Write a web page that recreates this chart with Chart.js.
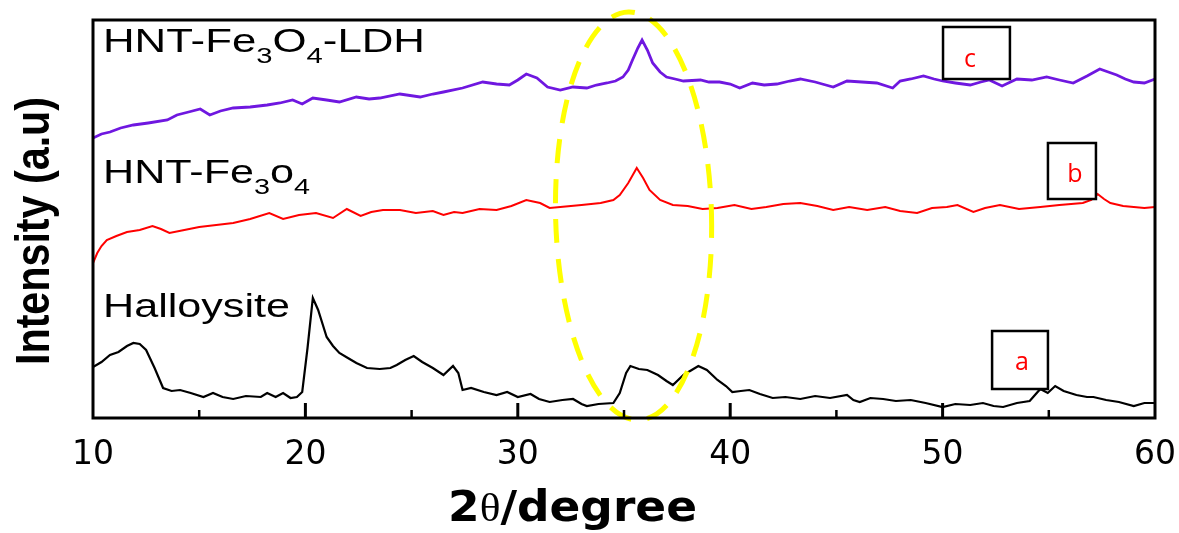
<!DOCTYPE html>
<html>
<head>
<meta charset="utf-8">
<script src="https://cdn.jsdelivr.net/npm/chart.js@4.4.1/dist/chart.umd.min.js"></script>
<style>
  html, body { margin: 0; padding: 0; background: #fff; }
</style>
</head>
<body>
<canvas id="xrd" width="1179" height="533"></canvas>
<script>
// 2theta (degree) / intensity (a.u.)
const haloX = [10.0, 10.4, 10.8, 11.2, 11.6, 11.9, 12.2, 12.5, 12.9, 13.3, 13.7, 14.1, 14.6, 15.2, 15.65, 16.1, 16.6, 17.2, 17.9, 18.2, 18.6, 18.95, 19.3, 19.6, 19.85, 20.1, 20.35, 20.6, 21.0, 21.3, 21.6, 22.0, 22.4, 22.9, 23.5, 24.0, 24.3, 24.7, 25.1, 25.5, 26.0, 26.5, 26.95, 27.2, 27.4, 27.8, 28.4, 29.0, 29.5, 30.0, 30.6, 31.0, 31.5, 32.1, 32.6, 33.0, 33.25, 33.8, 34.5, 34.8, 35.1, 35.3, 35.7, 36.1, 36.6, 37.0, 37.3, 37.8, 38.5, 38.9, 39.4, 39.8, 40.1, 40.5, 40.9, 41.4, 42.0, 42.6, 43.3, 44.0, 44.7, 45.5, 45.8, 46.1, 46.6, 47.2, 47.8, 48.5, 49.2, 50.0, 50.6, 51.3, 51.9, 52.4, 52.85, 53.5, 54.1, 54.6, 54.95, 55.3, 55.7, 56.3, 56.8, 57.1, 57.7, 58.3, 59.0, 59.5, 60.0];
const haloY = [51, 56, 63, 66, 72, 75, 74, 68, 50, 30, 27, 28, 25, 21, 25, 21, 19, 22, 21, 25, 21, 25, 20, 21, 26, 70, 120, 108, 81, 72, 65, 60, 55, 50, 49, 50, 53, 58, 62, 56, 50, 43, 52, 45, 28, 30, 26, 23, 26, 21, 24, 19, 16, 18, 19, 14, 12, 14, 15, 25, 45, 52, 49, 48, 43, 37, 33, 43, 52, 48, 38, 32, 26, 27, 28, 24, 20, 21, 19, 22, 20, 23, 18, 16, 20, 19, 17, 18, 15, 11, 14, 13, 15, 12, 11, 15, 17, 29, 25, 32, 27, 23, 21, 21, 18, 16, 12, 15, 15];

const fe3o4X = [10.0, 10.2, 10.4, 10.65, 11.1, 11.6, 12.2, 12.8, 13.2, 13.6, 14.3, 15.0, 15.8, 16.6, 17.4, 18.3, 18.95, 19.7, 20.5, 21.3, 21.95, 22.6, 23.1, 23.65, 24.45, 25.2, 26.0, 26.5, 27.0, 27.4, 28.2, 29.0, 29.7, 30.4, 31.05, 31.5, 32.0, 33.0, 33.9, 34.5, 34.8, 35.2, 35.6, 35.9, 36.2, 36.7, 37.3, 38.0, 38.7, 39.4, 40.2, 41.0, 41.7, 42.5, 43.3, 44.1, 44.85, 45.6, 46.45, 47.3, 48.0, 48.8, 49.5, 50.2, 50.7, 51.45, 52.0, 52.7, 53.6, 54.6, 55.5, 56.6, 57.0, 57.3, 57.6, 57.9, 58.5, 59.0, 59.5, 60.0];
const fe3o4Y = [155, 165, 172, 178, 182, 186, 188, 192, 189, 185, 188, 191, 193, 195, 199, 205, 199, 203, 205, 200, 209, 202, 206, 208, 208, 205, 207, 203, 206, 205, 209, 208, 212, 218, 215, 210, 211, 213, 215, 218, 223, 235, 250, 240, 228, 218, 213, 212, 209, 210, 213, 209, 211, 214, 215, 212, 208, 211, 208, 211, 207, 205, 210, 211, 213, 206, 210, 213, 209, 211, 213, 215, 218, 224, 219, 215, 212, 211, 210, 211];

const ldhX = [10.0, 10.4, 10.8, 11.3, 11.9, 12.6, 13.5, 13.95, 14.5, 15.05, 15.5, 16.0, 16.6, 17.4, 18.2, 18.8, 19.4, 19.85, 20.35, 21.0, 21.6, 22.4, 23.0, 23.5, 24.45, 25.4, 26.0, 26.5, 27.4, 28.35, 29.0, 29.6, 30.0, 30.4, 30.9, 31.4, 32.0, 32.6, 33.25, 33.7, 34.2, 34.6, 34.95, 35.2, 35.4, 35.65, 35.85, 36.1, 36.35, 36.7, 37.0, 37.4, 37.8, 38.6, 39.0, 39.5, 40.0, 40.45, 41.05, 41.6, 42.2, 42.8, 43.3, 44.0, 44.5, 44.85, 45.5, 46.2, 46.9, 47.65, 48.0, 48.5, 49.1, 49.6, 50.0, 50.6, 51.3, 51.8, 52.2, 52.8, 53.5, 54.2, 54.9, 55.5, 56.15, 56.8, 57.4, 57.8, 58.2, 58.6, 59.0, 59.5, 60.0];
const ldhY = [280, 284, 286, 290, 293, 295, 298, 303, 306, 309, 303, 307, 310, 311, 313, 315, 318, 314, 320, 318, 316, 321, 319, 320, 324, 321, 324, 326, 330, 336, 334, 333, 338, 344, 340, 331, 328, 331, 330, 333, 335, 337, 341, 348, 358, 370, 378, 368, 355, 346, 341, 339, 337, 338, 336, 336, 334, 330, 335, 333, 334, 337, 339, 336, 333, 331, 337, 336, 335, 330, 337, 339, 342, 339, 337, 335, 333, 336, 338, 332, 339, 338, 341, 338, 335, 342, 349, 346, 343, 339, 336, 335, 339];

const xTicks = [10, 20, 30, 40, 50, 60];

function pairs(xs, ys) {
  return xs.map((v, i) => ({ x: v, y: ys[i] }));
}

const SANS = "'Liberation Sans', Arial, sans-serif";

// run of text pieces [text, font, dy], stretched to a given width
function drawRun(ctx, parts, x, y, width) {
  let w = 0;
  parts.forEach(([t, f]) => { ctx.font = f; w += ctx.measureText(t).width; });
  ctx.save();
  ctx.translate(x, y);
  ctx.scale(width / w, 1);
  ctx.fillStyle = "#000";
  ctx.textAlign = "left";
  ctx.textBaseline = "alphabetic";
  let cx = 0;
  parts.forEach(([t, f, dy]) => {
    ctx.font = f;
    ctx.fillText(t, cx, dy || 0);
    cx += ctx.measureText(t).width;
  });
  ctx.restore();
}

function label(parts, size) {
  const main = size + "px " + SANS;
  const sub = Math.round(size * 0.66) + "px " + SANS;
  return parts.map(([t, s]) => [t, s ? sub : main, s ? size * 0.34 : 0]);
}

const decor = {
  id: "decor",
  afterDatasetsDraw(chart) {
    const { ctx, chartArea: a, scales: { x, y } } = chart;
    ctx.save();

    // yellow dashed ellipse round the 35.5 deg peak
    const cx = x.getPixelForValue(35.45), cy = y.getPixelForValue(202);
    const rx = x.getPixelForValue(35.45 + 3.67) - cx;
    const ry = cy - y.getPixelForValue(202 + 204);
    ctx.strokeStyle = "#ffff00";
    ctx.lineWidth = 5;
    ctx.setLineDash([24, 16]);
    ctx.beginPath();
    ctx.ellipse(cx, cy, rx, ry, -0.025, 0, Math.PI * 2);
    ctx.stroke();
    ctx.setLineDash([]);

    // frame + inward ticks
    ctx.strokeStyle = "#000";
    ctx.lineWidth = 3;
    ctx.strokeRect(a.left, a.top, a.right - a.left, a.bottom - a.top);
    for (let v = 15; v < 60; v += 5) {
      const px = x.getPixelForValue(v);
      const major = v % 10 === 0;
      ctx.lineWidth = major ? 3 : 2.5;
      ctx.beginPath();
      ctx.moveTo(px, a.bottom);
      ctx.lineTo(px, a.bottom - (major ? 15 : 8));
      ctx.stroke();
    }

    // sample names
    const lx = x.getPixelForValue(10.47);
    drawRun(ctx, label([["HNT-Fe"], ["3", 1], ["O"], ["4", 1], ["-LDH"]], 33), lx, y.getPixelForValue(366), 322);
    drawRun(ctx, label([["HNT-Fe"], ["3", 1], ["o"], ["4", 1]], 33), lx, y.getPixelForValue(235), 207);
    drawRun(ctx, label([["Halloysite"]], 33), lx, y.getPixelForValue(101), 187);

    // boxed letters
    const boxes = [
      ["c", 50.02, 53.17, 391, 339, 51.29, 351],
      ["b", 54.96, 57.22, 275, 219, 56.23, 236],
      ["a", 52.33, 54.96, 87, 29, 53.74, 48],
    ];
    boxes.forEach(([t, x1, x2, y1, y2, tx, ty]) => {
      const p1 = x.getPixelForValue(x1), p2 = x.getPixelForValue(x2);
      const q1 = y.getPixelForValue(y1), q2 = y.getPixelForValue(y2);
      ctx.fillStyle = "#fff";
      ctx.fillRect(p1, q1, p2 - p1, q2 - q1);
      ctx.strokeStyle = "#000";
      ctx.lineWidth = 2.5;
      ctx.strokeRect(p1, q1, p2 - p1, q2 - q1);
      ctx.fillStyle = "#ff0000";
      ctx.font = "25px 'Open Sans', 'Liberation Sans', sans-serif";
      ctx.textAlign = "center";
      ctx.textBaseline = "alphabetic";
      ctx.fillText(t, x.getPixelForValue(tx), y.getPixelForValue(ty));
    });

    ctx.restore();
  },
  afterDraw(chart) {
    const { ctx } = chart;
    // x title
    const bold = "bold 42px 'DejaVu Sans', sans-serif";
    drawRun(ctx, [["2", bold], ["θ", "40px 'Liberation Serif', serif"], ["/degree", bold]], 448, 521, 249);

    // rotated y title, condensed
    ctx.save();
    ctx.font = "bold 49px " + SANS;
    const w = ctx.measureText("Intensity (a.u)").width;
    ctx.translate(49, 231);
    ctx.rotate(-Math.PI / 2);
    ctx.scale(268 / w, 1);
    ctx.fillStyle = "#000";
    ctx.textAlign = "center";
    ctx.textBaseline = "alphabetic";
    ctx.fillText("Intensity (a.u)", 0, 0);
    ctx.restore();
  }
};

try {
  new Chart(document.getElementById("xrd").getContext("2d"), {
    type: "line",
    data: {
      datasets: [
        { label: "Halloysite", data: pairs(haloX, haloY), borderColor: "#000000", borderWidth: 2.2 },
        { label: "HNT-Fe3O4", data: pairs(fe3o4X, fe3o4Y), borderColor: "#ff0000", borderWidth: 2 },
        { label: "HNT-Fe3O4-LDH", data: pairs(ldhX, ldhY), borderColor: "#6f17e0", borderWidth: 2.8 },
      ],
    },
    options: {
      responsive: false,
      animation: false,
      pointRadius: 0,
      tension: 0,
      layout: { padding: { left: 93, right: 24, top: 20, bottom: 0 } },
      plugins: { legend: { display: false }, tooltip: { enabled: false } },
      scales: {
        x: {
          type: "linear",
          min: 10,
          max: 60,
          grid: { display: false, drawTicks: true, tickLength: 16 },
          border: { display: false },
          ticks: {
            stepSize: 10,
            padding: 2,
            color: "#000",
            font: { family: "'DejaVu Sans', sans-serif", size: 33 },
            callback: (v) => (xTicks.includes(v) ? v : ""),
          },
          afterFit: (s) => { s.height = 115; },
        },
        y: { display: false, min: 0, max: 398 },
      },
    },
    plugins: [decor],
  });
} catch (e) {
  console.error(e);
}
</script>
</body>
</html>
